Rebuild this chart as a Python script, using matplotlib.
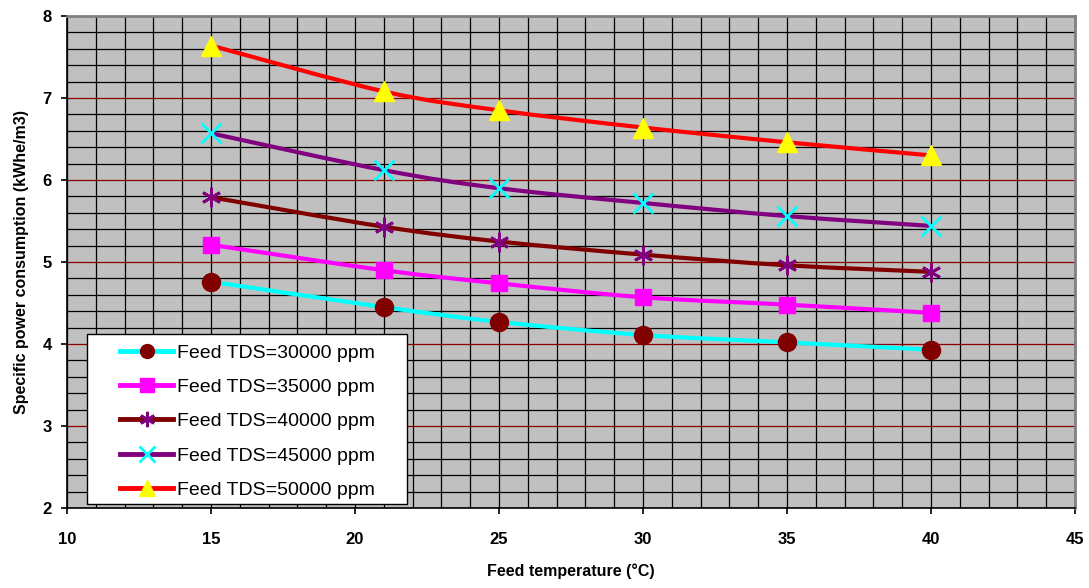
import numpy as np
import matplotlib
matplotlib.use("Agg")
import matplotlib.pyplot as plt
from matplotlib.ticker import MultipleLocator
from matplotlib.patches import Rectangle
from matplotlib.path import Path
from matplotlib.patches import PathPatch

plt.rcParams['font.family'] = ['Liberation Sans', 'DejaVu Sans']

temps = [15, 21, 25, 30, 35, 40]
labels = ["Feed TDS=30000 ppm", "Feed TDS=35000 ppm", "Feed TDS=40000 ppm",
          "Feed TDS=45000 ppm", "Feed TDS=50000 ppm"]
tds30 = [4.76, 4.45, 4.27, 4.11, 4.02, 3.93]
tds35 = [5.21, 4.90, 4.74, 4.57, 4.48, 4.38]
tds40 = [5.79, 5.43, 5.25, 5.09, 4.96, 4.88]
tds45 = [6.57, 6.12, 5.90, 5.72, 5.56, 5.44]
tds50 = [7.64, 7.08, 6.85, 6.64, 6.46, 6.30]

line_colors = ['#00FFFF', '#FF00FF', '#800000', '#800080', '#FF0000']
marker_colors = ['#800000', '#FF00FF', '#800080', '#00FFFF', '#FFFF00']
markers = ['o', 's', (6, 2, 0), 'x', '^']
msizes = [13, 12, 14, 14, 14]
leg_msizes = [10, 10, 11, 11, 11]

W, H = 1089, 588
fig = plt.figure(figsize=(W/100, H/100), dpi=100)
ax = fig.add_axes([67/W, 1-508/H, (1075-67)/W, (508-16)/H])
ax.set_facecolor('#C0C0C0')
ax.set_xlim(10, 45)
ax.set_ylim(2, 8)

ax.xaxis.set_major_locator(MultipleLocator(5))
ax.xaxis.set_minor_locator(MultipleLocator(1))
ax.yaxis.set_major_locator(MultipleLocator(1))
ax.yaxis.set_minor_locator(MultipleLocator(0.2))
ax.grid(which='minor', axis='both', color='black', lw=0.9)
ax.grid(which='major', axis='x', color='black', lw=0.9)
ax.grid(which='major', axis='y', color='#8B0000', lw=0.9)
ax.set_axisbelow(True)
ax.tick_params(which='minor', length=0)
ax.tick_params(which='major', direction='out', length=4, width=1.2, labelsize=12)
ax.tick_params(axis='x', pad=13)
ax.tick_params(axis='y', pad=7)
for lab in ax.get_xticklabels() + ax.get_yticklabels():
    lab.set_fontweight('bold')
for s in ['top', 'right']:
    ax.spines[s].set_color('#808080')
    ax.spines[s].set_linewidth(2)
for s in ['left', 'bottom']:
    ax.spines[s].set_color('black')
    ax.spines[s].set_linewidth(1.2)


def smooth_path(xv, yv):
    # Excel-style smoothed line: cubic Bezier segments with Catmull-Rom tangents
    xv = np.asarray(xv, float)
    yv = np.asarray(yv, float)
    n = len(xv)
    verts = [(xv[0], yv[0])]
    codes = [Path.MOVETO]
    for i in range(n - 1):
        p0 = np.array([xv[max(i-1, 0)], yv[max(i-1, 0)]])
        p1 = np.array([xv[i], yv[i]])
        p2 = np.array([xv[i+1], yv[i+1]])
        p3 = np.array([xv[min(i+2, n-1)], yv[min(i+2, n-1)]])
        c1 = p1 + (p2 - p0) / 6.0
        c2 = p2 - (p3 - p1) / 6.0
        verts += [tuple(c1), tuple(c2), tuple(p2)]
        codes += [Path.CURVE4] * 3
    return Path(verts, codes)


series = [tds30, tds35, tds40, tds45, tds50]
handles = []
for i, ys in enumerate(series):
    pp = PathPatch(smooth_path(temps, ys), facecolor='none', edgecolor=line_colors[i],
                   lw=3, zorder=3, capstyle='round')
    ax.add_patch(pp)
    mk = markers[i]
    mew = 2 if mk in ('x', (6, 2, 0)) else 1
    ax.plot(temps, ys, ls='none', marker=mk, ms=msizes[i], color=marker_colors[i],
            mec=marker_colors[i], mew=mew, zorder=4)
    h, = ax.plot([], [], color=line_colors[i], lw=3.5, marker=mk, ms=leg_msizes[i],
                 mfc=marker_colors[i], mec=marker_colors[i], mew=mew)
    handles.append(h)

# legend box
rect = Rectangle((87/W, 1-504/H), (407-87)/W, (504-334)/H, transform=fig.transFigure,
                 facecolor='white', edgecolor='black', lw=1, zorder=10)
fig.patches.append(rect)
leg = fig.legend(handles, labels, loc='upper left', bbox_to_anchor=(120/W, 1-344/H),
                 bbox_transform=fig.transFigure,
                 fontsize=14, frameon=False, labelspacing=0.86, handlelength=2.75,
                 handletextpad=0.2, borderpad=0, borderaxespad=0)
leg.set_zorder(11)

ax.set_xlabel('Feed temperature (°C)', fontsize=11.5, fontweight='bold', labelpad=12)
ax.set_ylabel('Specific power consumption (kWhe/m3)', fontsize=11.5, fontweight='bold', labelpad=10)

fig.savefig('out.png', dpi=100)
